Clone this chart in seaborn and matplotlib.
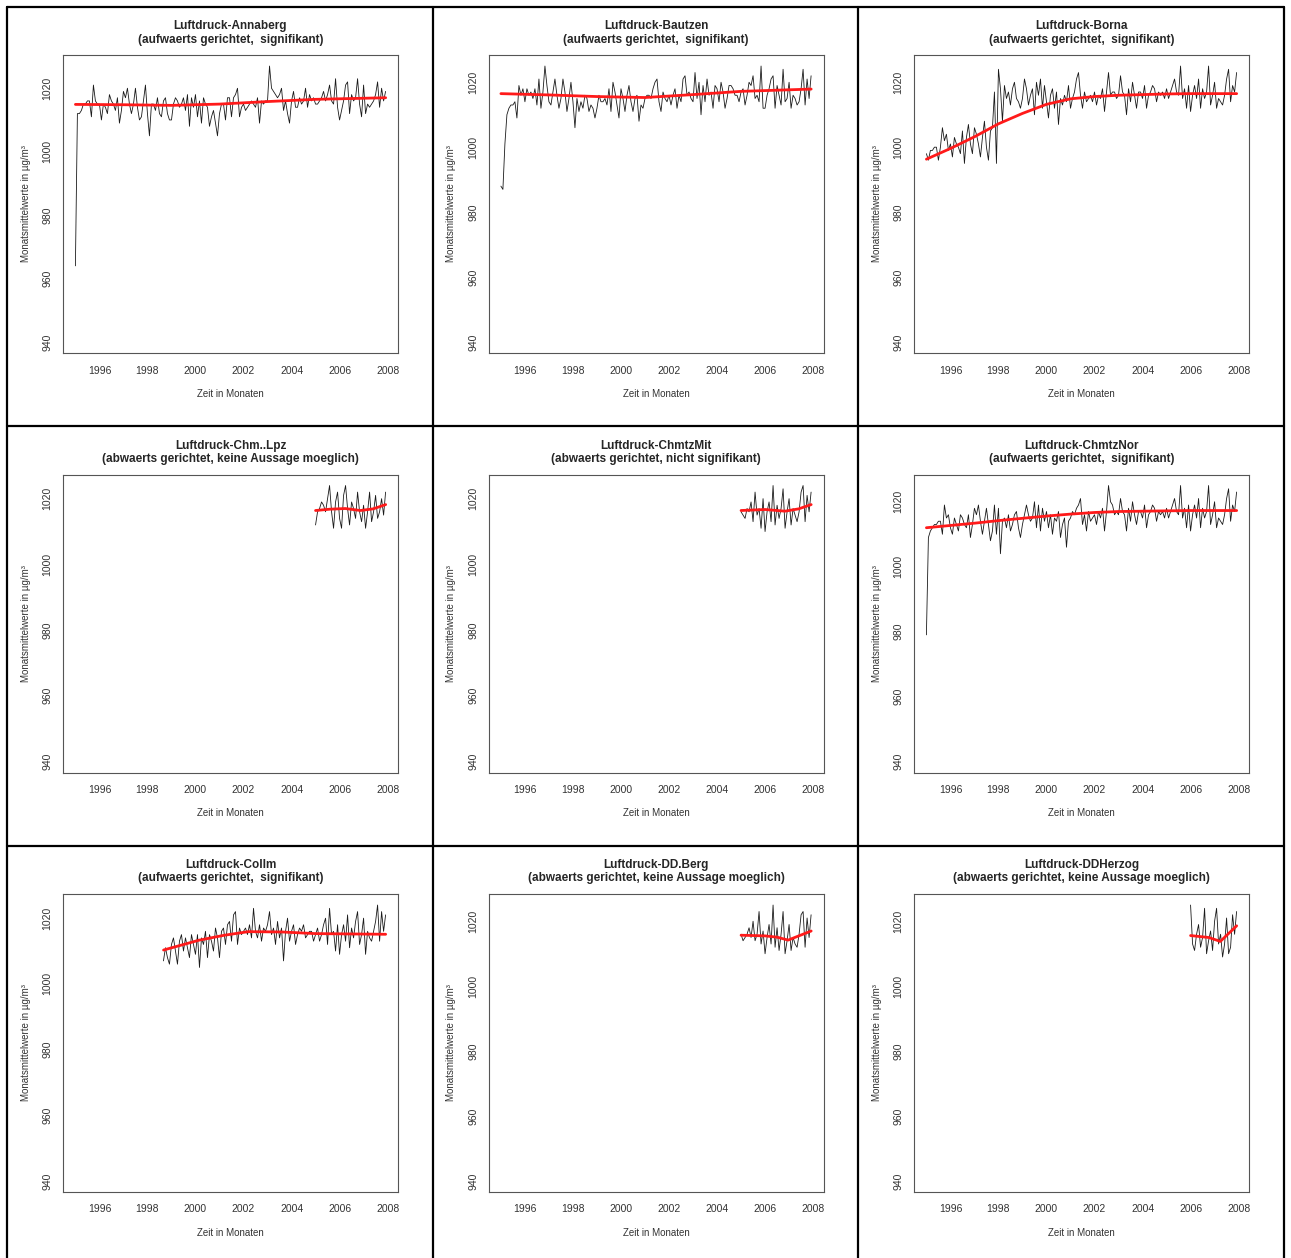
import numpy as np
import pandas as pd
import matplotlib
matplotlib.use("Agg")
import matplotlib.pyplot as plt
from matplotlib.lines import Line2D
import seaborn as sns

# Monatsmittel Luftdruck, eine Zeile pro Jahr (Jan..Dez)

annaberg = [
    964, 1012, 1012, 1013, 1015, 1015, 1016, 1016, 1011, 1021, 1016, 1015,
    1015, 1010, 1015, 1014, 1012, 1018, 1016, 1015, 1013, 1017, 1009, 1013,
    1019, 1017, 1020, 1015, 1012, 1015, 1020, 1014, 1010, 1011, 1016, 1021,
    1012, 1005, 1015, 1015, 1013, 1017, 1012, 1011, 1016, 1017, 1012, 1010,
    1010, 1015, 1017, 1016, 1014, 1015, 1017, 1013, 1018, 1008, 1017, 1014,
    1018, 1011, 1016, 1009, 1017, 1015, 1014, 1008, 1011, 1013, 1009, 1005,
    1012, 1015, 1015, 1010, 1017, 1017, 1011, 1017, 1018, 1020, 1011, 1014,
    1015, 1013, 1014, 1015, 1016, 1015, 1014, 1017, 1009, 1016, 1015, 1016,
    1016, 1027, 1020, 1019, 1018, 1017, 1018, 1020, 1013, 1016, 1012, 1009,
    1016, 1019, 1014, 1014, 1017, 1015, 1016, 1020, 1014, 1018, 1016, 1017,
    1015, 1015, 1016, 1017, 1019, 1016, 1018, 1021, 1016, 1015, 1023, 1014,
    1010, 1013, 1016, 1021, 1022, 1012, 1018, 1016, 1017, 1023, 1015, 1011,
    1021, 1012, 1015, 1014, 1015, 1016, 1018, 1022, 1014, 1020, 1016, 1019,
]

bautzen = [
    988, 987, 1001, 1010, 1012, 1013, 1013, 1014, 1009, 1019, 1016, 1018,
    1014, 1018, 1016, 1017, 1015, 1018, 1013, 1021, 1012, 1017, 1025, 1019,
    1014, 1013, 1017, 1021, 1016, 1012, 1015, 1021, 1017, 1011, 1015, 1020,
    1014, 1006, 1015, 1011, 1014, 1012, 1016, 1015, 1011, 1013, 1012, 1009,
    1012, 1016, 1014, 1014, 1015, 1013, 1018, 1011, 1020, 1017, 1013, 1009,
    1018, 1015, 1011, 1016, 1019, 1014, 1011, 1015, 1016, 1008, 1013, 1012,
    1015, 1016, 1016, 1015, 1018, 1020, 1021, 1014, 1011, 1017, 1015, 1014,
    1016, 1013, 1016, 1018, 1012, 1016, 1014, 1021, 1022, 1016, 1017, 1015,
    1014, 1023, 1015, 1020, 1010, 1019, 1014, 1021, 1016, 1017, 1012, 1019,
    1018, 1014, 1020, 1017, 1012, 1015, 1019, 1019, 1018, 1016, 1016, 1014,
    1017, 1018, 1013, 1016, 1020, 1019, 1022, 1015, 1016, 1014, 1025, 1012,
    1012, 1016, 1018, 1021, 1022, 1012, 1019, 1016, 1013, 1024, 1014, 1015,
    1020, 1012, 1016, 1015, 1013, 1014, 1018, 1024, 1013, 1021, 1015, 1022,
]

borna = [
    998, 996, 999, 999, 1000, 1000, 996, 1000, 1006, 1002, 1004, 999,
    1001, 997, 1003, 1001, 1000, 998, 1005, 995, 1003, 1007, 1001, 998,
    1006, 1004, 1001, 997, 1003, 1008, 1000, 996, 1005, 1006, 1017, 995,
    1024, 1018, 1008, 1019, 1015, 1017, 1013, 1018, 1020, 1015, 1014, 1012,
    1015, 1021, 1018, 1013, 1016, 1018, 1010, 1020, 1016, 1021, 1012, 1019,
    1014, 1009, 1016, 1018, 1012, 1017, 1007, 1015, 1013, 1016, 1014, 1019,
    1012, 1015, 1017, 1021, 1023, 1016, 1012, 1017, 1014, 1015, 1016, 1014,
    1017, 1013, 1016, 1015, 1018, 1011, 1017, 1023, 1016, 1017, 1017, 1015,
    1016, 1022, 1017, 1016, 1010, 1018, 1014, 1020, 1016, 1012, 1017, 1017,
    1015, 1019, 1012, 1016, 1017, 1019, 1018, 1014, 1017, 1016, 1017, 1015,
    1018, 1015, 1017, 1019, 1021, 1017, 1016, 1025, 1015, 1018, 1012, 1019,
    1011, 1016, 1019, 1015, 1021, 1012, 1018, 1015, 1017, 1025, 1013, 1016,
    1020, 1012, 1015, 1014, 1013, 1016, 1021, 1024, 1014, 1019, 1017, 1023,
]

chm_lpz = [
    1012, 1016, 1017, 1019, 1018, 1016, 1020, 1024, 1016, 1011, 1019, 1022,
    1014, 1011, 1021, 1024, 1017, 1012, 1019, 1017, 1014, 1022, 1016, 1013,
    1018, 1011, 1016, 1022, 1013, 1016, 1021, 1014, 1016, 1020, 1015, 1022,
]

chmtz_mit = [
    1016, 1015, 1014, 1017, 1016, 1019, 1013, 1022, 1015, 1017, 1011, 1020,
    1010, 1016, 1019, 1013, 1024, 1012, 1018, 1014, 1017, 1023, 1011, 1016,
    1020, 1012, 1017, 1015, 1013, 1016, 1022, 1024, 1013, 1021, 1016, 1022,
]

chmtz_nor = [
    979, 1009, 1011, 1012, 1013, 1013, 1014, 1014, 1010, 1019, 1015, 1016,
    1012, 1010, 1015, 1013, 1011, 1016, 1015, 1013, 1012, 1016, 1009, 1013,
    1018, 1016, 1019, 1014, 1010, 1014, 1018, 1013, 1008, 1011, 1019, 1010,
    1018, 1004, 1014, 1015, 1012, 1016, 1011, 1013, 1016, 1017, 1012, 1009,
    1013, 1016, 1019, 1016, 1014, 1015, 1020, 1012, 1019, 1011, 1018, 1014,
    1017, 1012, 1016, 1010, 1015, 1014, 1017, 1009, 1013, 1015, 1006, 1014,
    1015, 1017, 1016, 1018, 1019, 1021, 1013, 1016, 1011, 1017, 1014, 1015,
    1016, 1013, 1017, 1015, 1018, 1011, 1017, 1025, 1020, 1019, 1016, 1017,
    1016, 1021, 1017, 1016, 1011, 1018, 1014, 1020, 1016, 1013, 1017, 1017,
    1015, 1019, 1012, 1016, 1017, 1019, 1018, 1014, 1017, 1016, 1017, 1015,
    1018, 1015, 1017, 1019, 1021, 1017, 1016, 1025, 1015, 1018, 1012, 1019,
    1011, 1016, 1019, 1015, 1021, 1012, 1018, 1015, 1017, 1025, 1013, 1016,
    1020, 1012, 1015, 1014, 1013, 1016, 1021, 1024, 1014, 1019, 1017, 1023,
]

# Collm ab Sep 1998
collm = [
    1007, 1011, 1008, 1006,
    1012, 1014, 1010, 1006, 1013, 1015, 1010, 1014, 1011, 1008, 1015, 1012,
    1009, 1015, 1005, 1014, 1012, 1016, 1008, 1015, 1013, 1010, 1017, 1014,
    1008, 1016, 1017, 1012, 1018, 1019, 1013, 1021, 1022, 1012, 1017, 1015,
    1016, 1017, 1015, 1018, 1014, 1023, 1016, 1014, 1018, 1013, 1017, 1016,
    1018, 1022, 1015, 1017, 1012, 1019, 1014, 1017, 1007, 1016, 1020, 1013,
    1016, 1018, 1012, 1015, 1017, 1016, 1018, 1014, 1015, 1016, 1016, 1013,
    1015, 1017, 1013, 1015, 1018, 1020, 1012, 1023, 1015, 1016, 1010, 1018,
    1009, 1015, 1018, 1013, 1021, 1011, 1017, 1014, 1019, 1022, 1012, 1015,
    1020, 1009, 1016, 1014, 1013, 1016, 1019, 1024, 1013, 1022, 1016, 1021,
]

dd_berg = [
    1016, 1014, 1015, 1016, 1018, 1015, 1020, 1014, 1016, 1023, 1013, 1017,
    1010, 1015, 1019, 1013, 1025, 1012, 1018, 1011, 1016, 1023, 1010, 1014,
    1019, 1011, 1015, 1013, 1012, 1016, 1022, 1023, 1012, 1021, 1015, 1022,
]

dd_herzog = [
    1025, 1013, 1011, 1016, 1019, 1012, 1015, 1024, 1010, 1014, 1017, 1011,
    1020, 1024, 1013, 1016, 1009, 1013, 1021, 1010, 1012, 1022, 1016, 1023,
]

# Startzeitpunkt der Reihen (Jahr + Monat/12)
starts = [1995.0, 1995.0, 1995.0, 2005.0, 2005.0, 1995.0, 1998 + 8 / 12, 2005.0, 2006.0]

trend_t = [
    [1995.0, 1997, 1999, 2001, 2003, 2005, 2007.92],
    [1995.0, 1997, 1999, 2001, 2003, 2005, 2007.92],
    [1995.0, 1996, 1997, 1998, 1999, 2000, 2001, 2002, 2003, 2004, 2005, 2006, 2007, 2007.92],
    [2005.0, 2005.6, 2006.24, 2006.87, 2007.4, 2007.92],
    [2005.0, 2006.0, 2006.83, 2007.4, 2007.92],
    [1995.0, 1996, 1997, 1998, 1999, 2000, 2001, 2002, 2003, 2004, 2005, 2006, 2007, 2007.92],
    [1998.67, 2000.15, 2001.2, 2002.2, 2003.6, 2005.0, 2007.92],
    [2005.0, 2006.0, 2006.5, 2006.96, 2007.92],
    [2006.0, 2006.76, 2007.24, 2007.92],
]
trend_v = [
    [1014.9, 1014.8, 1014.6, 1015.0, 1015.8, 1016.5, 1017.0],
    [1016.5, 1016.1, 1015.6, 1015.3, 1016.2, 1017.2, 1017.9],
    [996.3, 999.6, 1003.2, 1007.2, 1010.4, 1013.2, 1014.9, 1015.6, 1016.0, 1016.2, 1016.4, 1016.5, 1016.5, 1016.5],
    [1016.4, 1016.8, 1017.0, 1016.4, 1016.9, 1018.2],
    [1016.4, 1016.7, 1016.2, 1016.9, 1018.2],
    [1012.0, 1012.7, 1013.4, 1014.2, 1014.9, 1015.6, 1016.2, 1016.7, 1017.0, 1017.1, 1017.2, 1017.3, 1017.3, 1017.3],
    [1010.3, 1013.3, 1014.8, 1015.9, 1015.8, 1015.3, 1015.1],
    [1015.7, 1015.5, 1015.1, 1014.2, 1017.0],
    [1015.6, 1015.0, 1013.8, 1018.6],
]

stations = ["Annaberg", "Bautzen", "Borna", "Chm..Lpz", "ChmtzMit",
            "ChmtzNor", "Collm", "DD.Berg", "DDHerzog"]
urteile = [
    "(aufwaerts gerichtet,  signifikant)",
    "(aufwaerts gerichtet,  signifikant)",
    "(aufwaerts gerichtet,  signifikant)",
    "(abwaerts gerichtet, keine Aussage moeglich)",
    "(abwaerts gerichtet, nicht signifikant)",
    "(aufwaerts gerichtet,  signifikant)",
    "(aufwaerts gerichtet,  signifikant)",
    "(abwaerts gerichtet, keine Aussage moeglich)",
    "(abwaerts gerichtet, keine Aussage moeglich)",
]
series = [annaberg, bautzen, borna, chm_lpz, chmtz_mit, chmtz_nor, collm, dd_berg, dd_herzog]

sns.set_style("white")
plt.rcParams["font.family"] = ["Liberation Sans", "DejaVu Sans"]

W, H = 1291, 1258
fig = plt.figure(figsize=(W / 100, H / 100), dpi=100)

x0, x1 = 1995.0, 1995 + 155 / 12
xpad = 0.04 * (x1 - x0)

for i, name in enumerate(stations):
    r, c = divmod(i, 3)
    left = 63 + c * 425.5
    top = 55 + r * 419.5
    ax = fig.add_axes([left / W, 1 - (top + 298) / H, 335 / W, 298 / H])

    vals = series[i]
    t = starts[i] + np.arange(len(vals)) / 12
    df = pd.DataFrame({"zeit": t, "wert": vals})
    sns.lineplot(data=df, x="zeit", y="wert", ax=ax, color="#1a1a1a", lw=0.6)
    sns.lineplot(x=trend_t[i], y=trend_v[i], ax=ax, color="#ff1a1a", lw=2.0)

    hi = max(vals)
    ypad = 0.04 * (hi - 940)
    ax.set_ylim(940 - ypad, hi + ypad)
    ax.set_xlim(x0 - xpad, x1 + xpad)
    ax.set_xticks(range(1996, 2009, 2))
    ax.set_yticks(range(940, 1021, 20))
    ax.tick_params(axis="both", direction="out", length=5, width=0.7,
                   color="#555555", labelsize=7.5, labelcolor="#333333", pad=4)
    ax.tick_params(axis="y", pad=2.5)
    for lab in ax.get_yticklabels():
        lab.set_rotation(90)
        lab.set_va("center")
    for sp in ax.spines.values():
        sp.set_color("#555555")
        sp.set_linewidth(0.8)

    ax.set_title(f"Luftdruck-{name}\n{urteile[i]}", fontsize=8.5,
                 fontweight="bold", pad=9, linespacing=1.15)
    ax.set_xlabel("Zeit in Monaten", fontsize=7, color="#333333")
    ax.set_ylabel("Monatsmittelwerte in µg/m³", fontsize=7, color="#333333")
    ax.xaxis.set_label_coords(0.5, -36 / 298)
    ax.yaxis.set_label_coords(-32 / 335, 0.5)

# Rahmen um die Einzelgrafiken
for xp in [7, 433, 858, 1284]:
    fig.add_artist(Line2D([xp / W, xp / W], [0, 1 - 7 / H], color="black", lw=1.6))
for yp in [7, 426, 846]:
    fig.add_artist(Line2D([7 / W, 1284 / W], [1 - yp / H, 1 - yp / H], color="black", lw=1.6))

fig.savefig("out.png", dpi=100)
